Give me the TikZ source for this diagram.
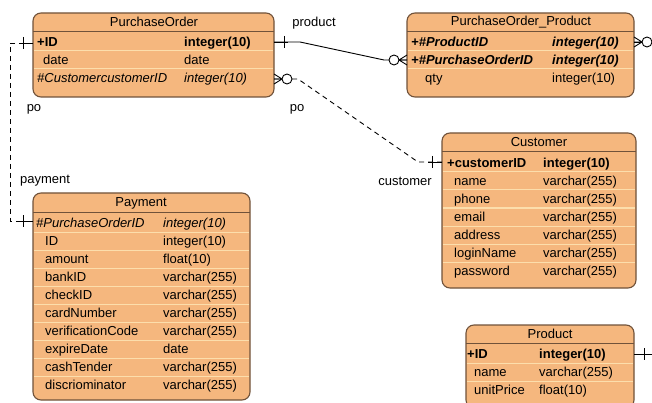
\documentclass[tikz,border=0pt]{standalone}
\usepackage{fontspec}
\setmainfont{Liberation Sans}
\usepackage{tikz}

\definecolor{body}{RGB}{245,183,126}
\definecolor{edge}{RGB}{112,82,58}
\definecolor{rowline}{RGB}{252,222,172}

\tikzset{
  one/.pic={\draw[rel] (0,0) -- (14,0) (10,-6) -- (10,6);},
  zeromany/.pic={\draw[rel] (0,-5) -- (8,0) -- (0,5) (0,0) -- (8,0);
                 \draw[rel, fill=white] (13,0) circle (5pt);}
}

\begin{document}
\begin{tikzpicture}[x=1pt, y=-1pt,
  font=\fontsize{13}{15}\selectfont,
  tbl/.style={draw=edge, fill=body, line width=1.1pt, rounded corners=8pt},
  hdr/.style={draw=edge, line width=1pt},
  sep/.style={draw=rowline, line width=1pt},
  ttl/.style={inner sep=0pt},
  fld/.style={anchor=west, inner sep=0pt, text height=11pt, text depth=2pt},
  pk/.style={fld, font=\fontsize{13}{15}\selectfont\bfseries},
  fk/.style={fld, font=\fontsize{13}{15}\selectfont\itshape},
  pkfk/.style={fld, font=\fontsize{13}{15}\selectfont\bfseries\itshape},
  lbl/.style={inner sep=0pt},
  rel/.style={line width=0.9pt, black}]
\path[use as bounding box, clip] (0,0) rectangle (652,403);

% PurchaseOrder
\draw[tbl] (33,13) rectangle (274,97);
\draw[hdr] (33,32) -- (274,32);
\draw[sep] (34,51) -- (273,51) (34,69) -- (273,69);
\node[ttl] (po) at (154,22) {PurchaseOrder};
\node[pk] (po-n1) at (37,42) {+ID};
\node[pk] (po-t1) at (184,42) {integer(10)};
\node[fld] (po-n2) at (43,60) {date};
\node[fld] (po-t2) at (184,60) {date};
\node[fk] (po-n3) at (37,78) {\#CustomercustomerID};
\node[fk] (po-t3) at (184,78) {integer(10)};
\coordinate (po-id-l) at (33,43);
\coordinate (po-id-r) at (274,42);
\coordinate (po-cid-r) at (274,79);

% PurchaseOrder_Product
\draw[tbl] (407,13) rectangle (634,97);
\draw[hdr] (407,32) -- (634,32);
\draw[sep] (408,51) -- (633,51) (408,69) -- (633,69);
\node[ttl] (pop) at (521,22) {PurchaseOrder\_Product};
\node[pkfk] (pop-n1) at (411,42) {+\#ProductID};
\node[pkfk] (pop-t1) at (552,42) {integer(10)};
\node[pkfk] (pop-n2) at (411,60) {+\#PurchaseOrderID};
\node[pkfk] (pop-t2) at (552,60) {integer(10)};
\node[fld] (pop-n3) at (425,78) {qty};
\node[fld] (pop-t3) at (552,78) {integer(10)};
\coordinate (pop-pid-r) at (634,42);
\coordinate (pop-oid-l) at (407,60);

% Customer
\draw[tbl] (442,133) rectangle (636,288);
\draw[hdr] (442,152) -- (636,152);
\foreach \y in {172,190,...,262} \draw[sep] (443,\y) -- (635,\y);
\node[ttl] (cus) at (539,142) {Customer};
\node[pk] (cus-n1) at (447,163) {+customerID};
\node[pk] (cus-t1) at (543,163) {integer(10)};
\foreach \n [count=\i from 2] in {name,phone,email,address,loginName,password}{
  \node[fld] (cus-n\i) at (454,{145+18*\i}) {\n};
  \node[fld] (cus-t\i) at (543,{145+18*\i}) {varchar(255)};
}
\coordinate (cus-id-l) at (442,162);

% Payment
\draw[tbl] (33,193) rectangle (250,400);
\draw[hdr] (33,212) -- (250,212);
\foreach \y in {232,250,...,376} \draw[sep] (34,\y) -- (249,\y);
\node[ttl] (pay) at (141,203) {Payment};
\node[fk] (pay-n1) at (36,223) {\#PurchaseOrderID};
\node[fk] (pay-t1) at (163,223) {integer(10)};
\foreach \n/\t [count=\i from 2] in {ID/integer(10), amount/float(10),
    bankID/varchar(255), checkID/varchar(255), cardNumber/varchar(255),
    verificationCode/varchar(255), expireDate/date, cashTender/varchar(255),
    discriominator/varchar(255)}{
  \node[fld] (pay-n\i) at (45,{205+18*\i}) {\n};
  \node[fld] (pay-t\i) at (163,{205+18*\i}) {\t};
}
\coordinate (pay-oid-l) at (33,221);

% Product
\draw[tbl] (466,325) rectangle (634,408);
\draw[hdr] (466,343) -- (634,343);
\draw[sep] (467,363) -- (633,363) (467,381) -- (633,381);
\node[ttl] (prd) at (550,334) {Product};
\node[pk] (prd-n1) at (467,354) {+ID};
\node[pk] (prd-t1) at (539,354) {integer(10)};
\node[fld] (prd-n2) at (474,372) {name};
\node[fld] (prd-t2) at (539,372) {varchar(255)};
\node[fld] (prd-n3) at (474,390) {unitPrice};
\node[fld] (prd-t3) at (539,390) {float(10)};
\coordinate (prd-id-r) at (634,354);

% relations
\draw[rel] (po-id-r) -- (300,42) -- (384,60) -- (pop-oid-l);
\draw[rel, dash pattern=on 5pt off 4pt] (po-cid-r) -- (298,79) -- (418,162) -- (cus-id-l);
\draw[rel, dash pattern=on 5pt off 4pt] (po-id-l) -- (10,43) -- (10,221) -- (pay-oid-l);
\draw[rel] (prd-id-r) -- (675,354) -- (675,42) -- (pop-pid-r);

\pic at (po-id-r) {one};
\pic[xscale=-1] at (pop-oid-l) {zeromany};
\pic at (po-cid-r) {zeromany};
\pic[xscale=-1] at (cus-id-l) {one};
\pic[xscale=-1] at (po-id-l) {one};
\pic[xscale=-1] at (pay-oid-l) {one};
\pic at (prd-id-r) {one};
\pic at (pop-pid-r) {zeromany};

\node[lbl] (lbl-product) at (314,23) {product};
\node[lbl] (lbl-po1) at (297,109) {po};
\node[lbl] (lbl-customer) at (405,181) {customer};
\node[lbl] (lbl-po2) at (34,109) {po};
\node[lbl] (lbl-payment) at (45,181) {payment};
\end{tikzpicture}
\end{document}
